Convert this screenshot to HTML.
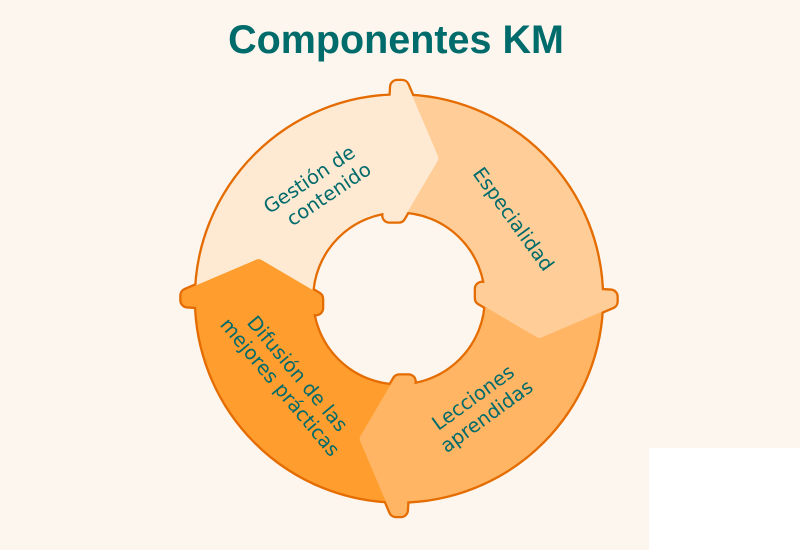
<!DOCTYPE html>
<html>
<head>
<meta charset="utf-8">
<style>
  html, body { margin:0; padding:0; }
  body { width:800px; height:550px; background:#fdf6ef; position:relative; overflow:hidden; }
  svg { position:absolute; left:0; top:0; }
  .wh { position:absolute; left:649px; top:448px; width:151px; height:102px; background:#ffffff; }
</style>
</head>
<body>
<div class="wh"></div>
<svg width="800" height="550" viewBox="0 0 800 550" xmlns="http://www.w3.org/2000/svg">
  <defs>
    <polygon id="ah" points="-1.8,-211.5 3.0,-211.5 33.3,-140.4 -0.4,-83 -9.6,-83"/>
  </defs>

  <text x="396" y="53" text-anchor="middle" font-family="Liberation Sans, Arial, sans-serif" font-weight="bold" font-size="39.5" fill="#006b6b">Componentes KM</text>

  <!-- outline layer -->
  <g fill="none" stroke="#e46c00">
    <circle cx="399" cy="298.5" r="203" stroke-width="4.6"/>
    <circle cx="399" cy="298.5" r="87" stroke-width="4.6"/>
  </g>
  <g stroke="#e46c00" stroke-width="16.6" stroke-linejoin="round" fill="#e46c00">
    <use href="#ah" transform="translate(399,298.5) rotate(0)"/>
    <use href="#ah" transform="translate(399,298.5) rotate(90)"/>
    <use href="#ah" transform="translate(399,298.5) rotate(180)"/>
    <use href="#ah" transform="translate(399,298.5) rotate(270)"/>
  </g>

  <!-- sector fills -->
  <path d="M196,298.5 A203,203 0 0 1 399,95.5 L399,211.5 A87,87 0 0 0 312,298.5 Z" fill="#fee9d3"/>
  <path d="M399,95.5 A203,203 0 0 1 602,298.5 L486,298.5 A87,87 0 0 0 399,211.5 Z" fill="#ffcd97"/>
  <path d="M602,298.5 A203,203 0 0 1 399,501.5 L399,385.5 A87,87 0 0 0 486,298.5 Z" fill="#ffb563"/>
  <path d="M399,501.5 A203,203 0 0 1 196,298.5 L312,298.5 A87,87 0 0 0 399,385.5 Z" fill="#ff9d2e"/>

  <!-- arrowhead fills -->
  <g stroke-width="12" stroke-linejoin="round">
    <use href="#ah" transform="translate(399,298.5) rotate(0)" fill="#fee9d3" stroke="#fee9d3"/>
    <use href="#ah" transform="translate(399,298.5) rotate(90)" fill="#ffcd97" stroke="#ffcd97"/>
    <use href="#ah" transform="translate(399,298.5) rotate(180)" fill="#ffb563" stroke="#ffb563"/>
    <use href="#ah" transform="translate(399,298.5) rotate(270)" fill="#ff9d2e" stroke="#ff9d2e"/>
  </g>

  <!-- labels -->
  <g font-family="DejaVu Sans, Liberation Sans, sans-serif" font-size="19.5" fill="#006b6b" text-anchor="middle">
    <text transform="translate(313,185) rotate(-34)"><tspan x="0" y="0">Gestión de</tspan><tspan x="8" y="23">contenido</tspan></text>
    <text transform="translate(508,223) rotate(54)"><tspan x="0" y="0">Especialidad</tspan></text>
    <text transform="translate(477,403) rotate(-36)"><tspan x="0" y="0">Lecciones</tspan><tspan x="0" y="23">aprendidas</tspan></text>
    <text transform="translate(292.4,378) rotate(50)"><tspan x="0" y="0">Difusión de las</tspan><tspan x="-1" y="22">mejores prácticas</tspan></text>
  </g>
</svg>
</body>
</html>
